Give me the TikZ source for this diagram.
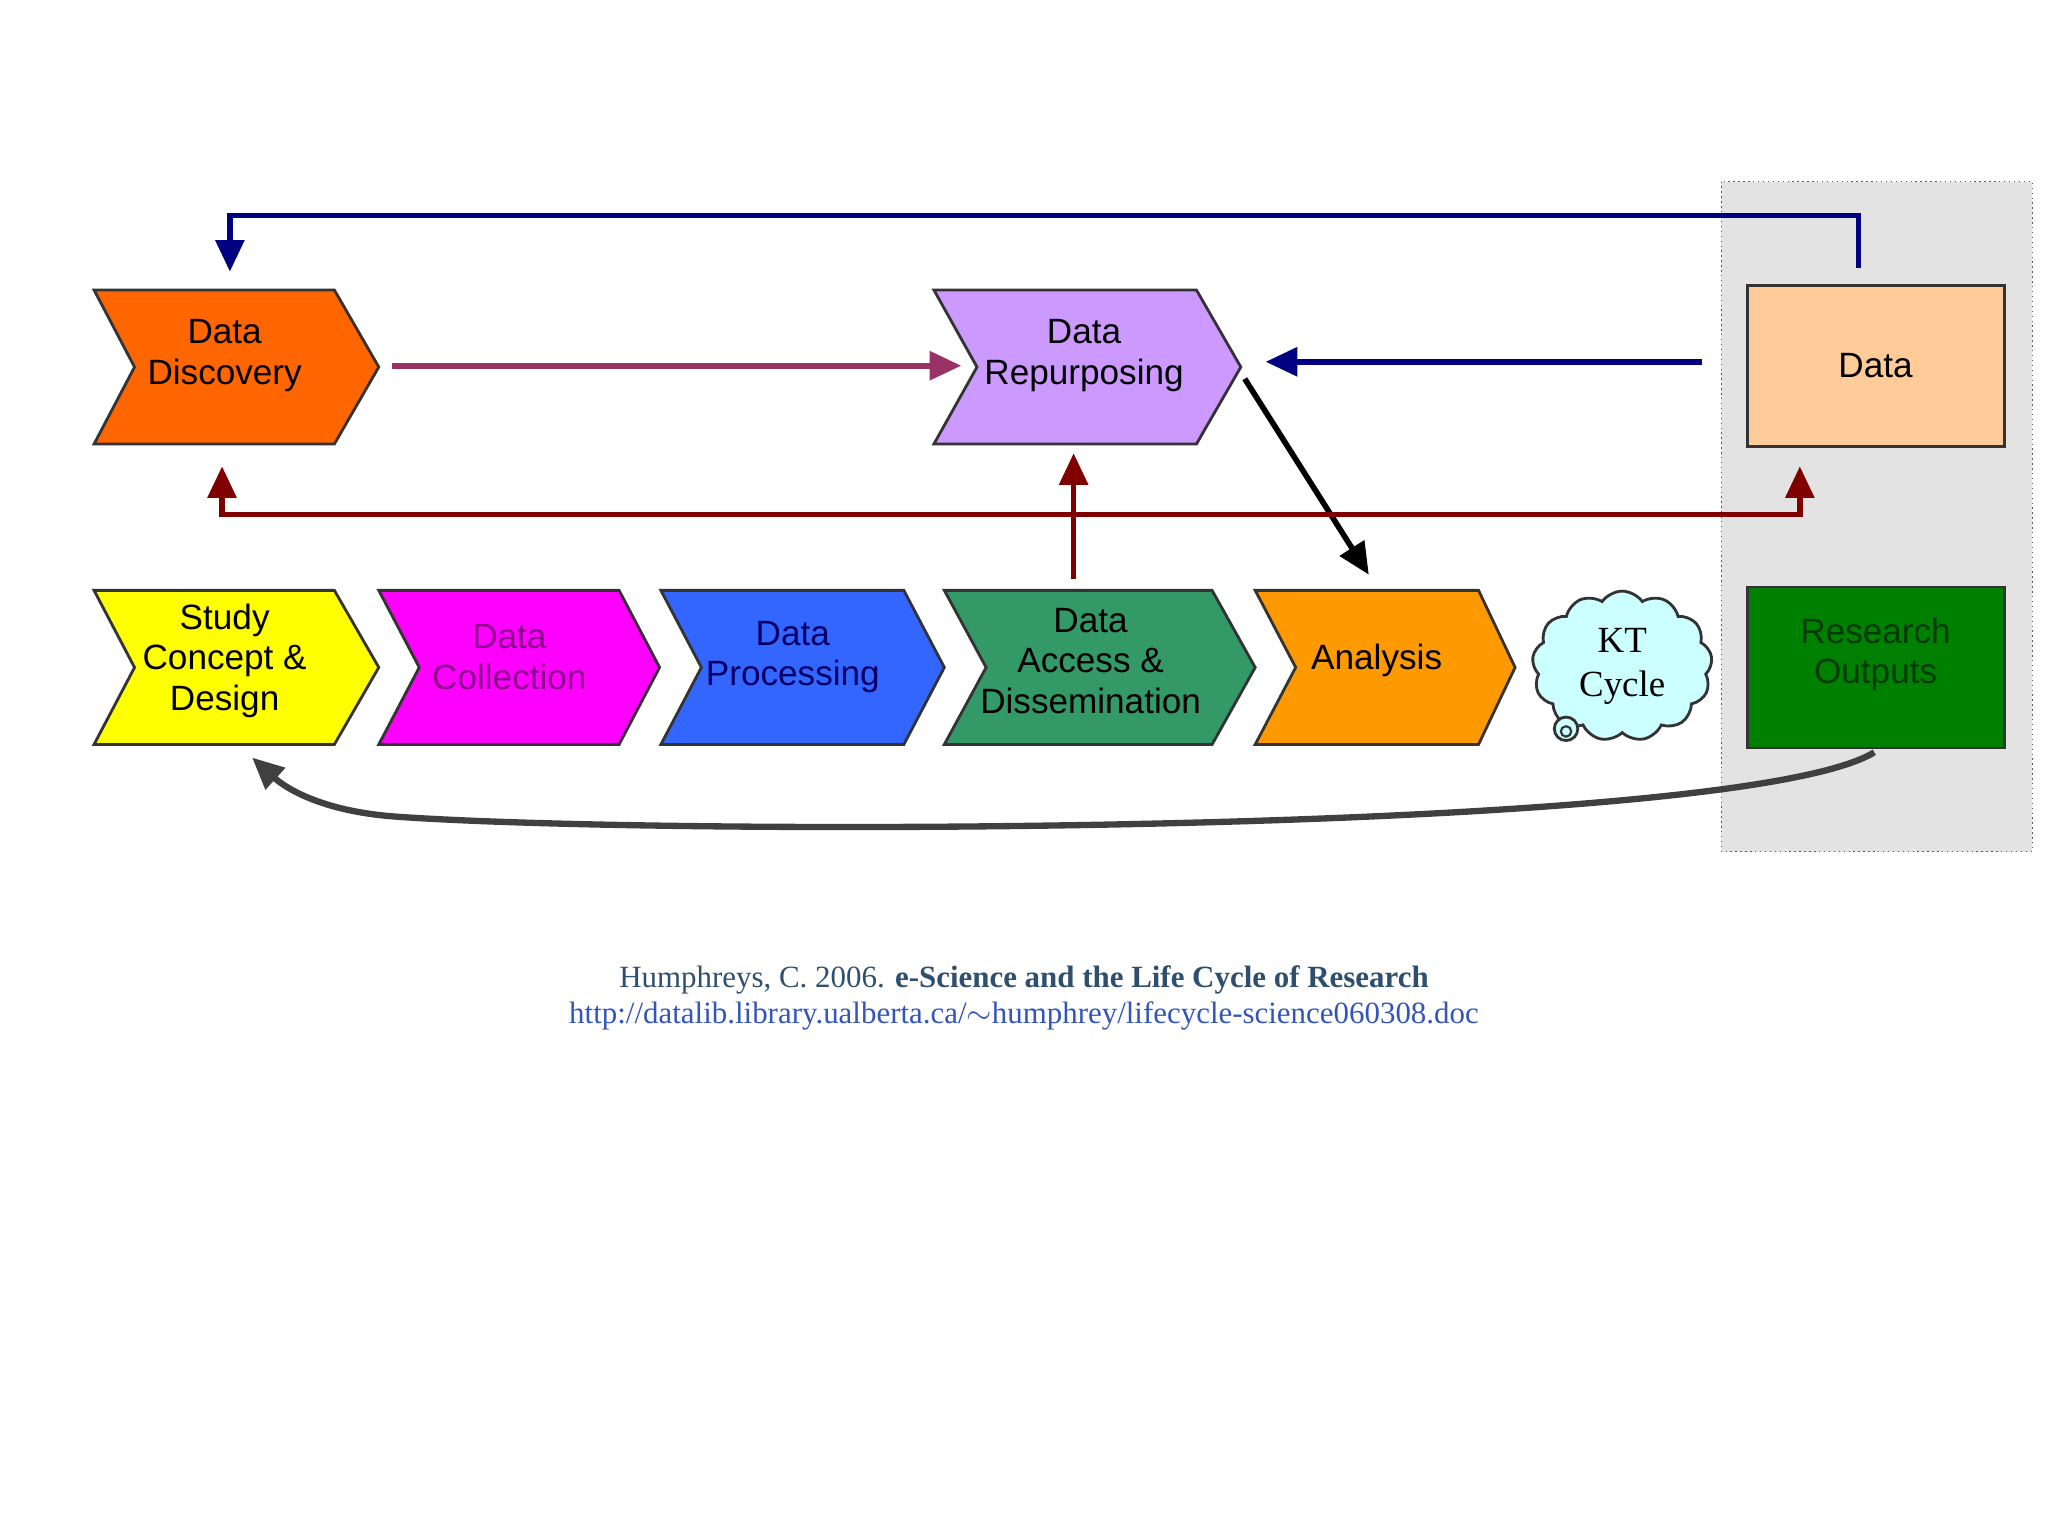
\documentclass[tikz,border=0pt]{standalone}
\usepackage{fontspec}
\setmainfont{Liberation Serif}
\newfontfamily\arialfont{Liberation Sans}
\usetikzlibrary{shapes.symbols,arrows.meta}
\definecolor{cDisc}{HTML}{FF6600}
\definecolor{cRep}{HTML}{CC99FF}
\definecolor{cStudy}{HTML}{FFFF00}
\definecolor{cColl}{HTML}{FF00FF}
\definecolor{cProc}{HTML}{3366FF}
\definecolor{cAcc}{HTML}{339966}
\definecolor{cAna}{HTML}{FF9900}
\definecolor{cCloud}{HTML}{CCFFFF}
\definecolor{cData}{HTML}{FFCC99}
\definecolor{cOut}{HTML}{008000}
\definecolor{cNavy}{HTML}{000080}
\definecolor{cMaroon}{HTML}{800000}
\definecolor{cPlum}{HTML}{993366}
\definecolor{cCap}{HTML}{2F4F6F}
\definecolor{cUrl}{HTML}{3355BB}
\begin{document}
\begin{tikzpicture}[x=0.013061cm,y=-0.013061cm,
  chev/.style={draw=black!80,line width=0.8pt},
  lbl/.style={font=\arialfont\fontsize{10}{11.6}\selectfont,align=center,inner sep=0pt},
  arr/.style={line width=1.6pt,-{Triangle[length=9pt,width=8pt]}}]
\useasboundingbox (0,0) rectangle (1568,1176);
% grey output panel
\fill[gray!22] (1318,139) rectangle (1556,652);
\draw[densely dotted,gray!70!black] (1318,139) rectangle (1556,652);

% top row
\draw[chev,fill=cDisc] (72,222)--(256,222)--(290,281)--(256,340)--(72,340)--(103,281)--cycle;
\node[lbl] (disc) at (172,272) {Data\\Discovery};
\draw[chev,fill=cRep] (715,222)--(916,222)--(950,281)--(916,340)--(715,340)--(748,281)--cycle;
\node[lbl] (rep) at (830,272) {Data\\Repurposing};
\node[lbl,draw=black!80,line width=0.8pt,fill=cData,minimum width=2.57cm,minimum height=1.61cm] (data) at (1436,280) {Data};

% bottom row
\draw[chev,fill=cStudy] (72,452)--(256,452)--(290,511)--(256,570)--(72,570)--(103,511)--cycle;
\node[lbl] (study) at (172,506) {Study\\Concept \&\\Design};
\draw[chev,fill=cColl] (290,452)--(474,452)--(505,511)--(474,570)--(290,570)--(321,511)--cycle;
\node[lbl,text=cColl!55!black] (coll) at (390,503) {Data\\Collection};
\draw[chev,fill=cProc] (506,452)--(692,452)--(723,511)--(692,570)--(506,570)--(537,511)--cycle;
\node[lbl,text=cNavy!80!black] (proc) at (607,503) {Data\\Processing};
\draw[chev,fill=cAcc] (723,452)--(928,452)--(961,511)--(928,570)--(723,570)--(755,511)--cycle;
\node[lbl] (acc) at (835,506) {Data\\Access \&\\Dissemination};
\draw[chev,fill=cAna] (961,452)--(1132,452)--(1160,511)--(1132,570)--(961,570)--(992,511)--cycle;
\node[lbl] (ana) at (1054,506) {Analysis};
\node[cloud,cloud puffs=13,cloud puff arc=110,aspect=1.15,draw=black!80,line width=0.8pt,fill=cCloud,
  minimum width=1.8cm,minimum height=1.5cm,align=center,inner sep=0pt,font=\fontsize{10.5}{12.5}\selectfont]
  (kt) at (1242,510) {KT\\Cycle};
\draw[black!80,line width=0.8pt,fill=cCloud] (1199,558) circle (9);
\draw[black!80,line width=0.6pt] (1199,560) circle (4);
\node[draw=black!80,line width=0.8pt,fill=cOut,minimum width=2.57cm,minimum height=1.61cm] (out) at (1436,511) {};
\node[lbl,text=cOut!45!black] (outtxt) at (1436,501) {Research\\Outputs};

% connectors
\coordinate (navyA) at (1423,205);
\coordinate (navyB) at (176,208);
\draw[arr,cNavy] (navyA) |- (800,165) -| (navyB);
\coordinate (plumA) at (300,280);
\coordinate (plumB) at (736,280);
\draw[arr,cPlum] (plumA) -- (plumB);
\coordinate (dataW) at (1303,277);
\coordinate (repE) at (969,277);
\draw[arr,cNavy] (dataW) -- (repE);
\coordinate (repTip) at (953,290);
\coordinate (anaTop) at (1048,440);
\draw[arr,black] (repTip) -- (anaTop);
\coordinate (accTop) at (822,443);
\coordinate (repBot) at (822,347);
\draw[arr,cMaroon] (accTop) -- (repBot);
\coordinate (discBot) at (170,357);
\coordinate (dataBot) at (1378,357);
\draw[arr,cMaroon,{Triangle[length=9pt,width=8pt]}-{Triangle[length=9pt,width=8pt]}] (discBot) |- (800,394) -| (dataBot);
\coordinate (outBot) at (1435,576);
\coordinate (studyBot) at (193,580);
\draw[arr,black!75,line width=1.8pt] (outBot) .. controls (1330,640) and (500,640) .. (300,625) .. controls (240,620) and (215,600) .. (studyBot);

% caption
\node[text=cCap,font=\fontsize{8.8}{10.5}\selectfont,inner sep=0pt] (cap) at (784,750)
  {Humphreys, C. 2006. \textbf{e-Science and the Life Cycle of Research}};
\node[text=cUrl,font=\fontsize{8.8}{10.5}\selectfont,inner sep=0pt] (url) at (784,778)
  {http://datalib.library.ualberta.ca/$\sim$humphrey/lifecycle-science060308.doc};
\end{tikzpicture}
\end{document}
